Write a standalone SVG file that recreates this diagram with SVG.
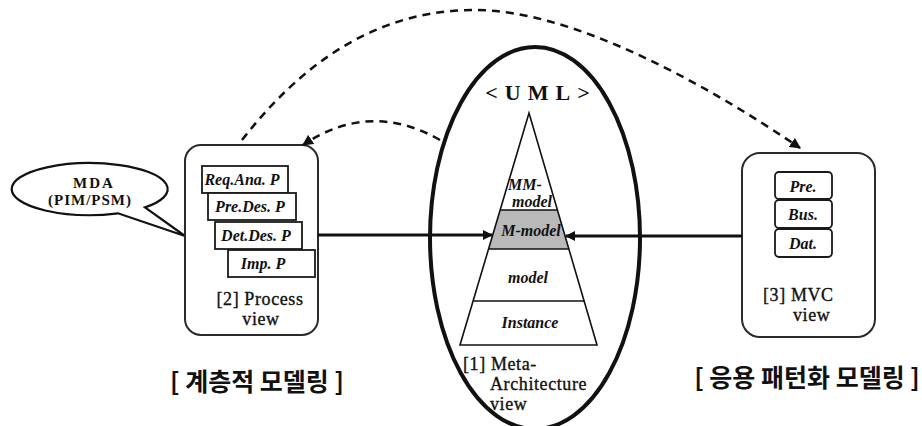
<svg xmlns="http://www.w3.org/2000/svg" width="922" height="426" viewBox="0 0 922 426">
<defs>
<style>
.box{fill:#fff;stroke:#2a2a2a;stroke-width:2}
.inner{fill:#fff;stroke:#1a1a1a;stroke-width:1.8}
.lbl{font-family:"Liberation Serif","Times New Roman",serif;font-size:18px;letter-spacing:0.6px;fill:#111;stroke:#111;stroke-width:0.35}
.bi{font-family:"Liberation Serif","Times New Roman",serif;font-size:16px;font-weight:bold;font-style:italic;fill:#111}
.kr{font-family:"Noto Sans CJK KR","Noto Sans",sans-serif;font-size:25px;font-weight:bold;fill:#111}
.solid{fill:none;stroke:#111;stroke-width:3}
.dash{fill:none;stroke:#111;stroke-width:2.5;stroke-dasharray:8 6}
.band{fill:none;stroke:#111;stroke-width:1.6}
</style>
<marker id="ah" viewBox="0 0 10 10" refX="9" refY="5" markerWidth="10" markerHeight="10" markerUnits="userSpaceOnUse" orient="auto">
<path d="M0,0 L10,5 L0,10 Z" fill="#111"/>
</marker>
<marker id="ahd" viewBox="0 0 10 10" refX="9" refY="5" markerWidth="11" markerHeight="11" markerUnits="userSpaceOnUse" orient="auto">
<path d="M0,0 L10,5 L0,10 Z" fill="#111"/>
</marker>
</defs>
<rect width="922" height="426" fill="#fff"/>

<g id="mda-callout">
<path d="M118,213.3 A78,26 0 1 1 145,207.4 L185,236 Z" fill="#fff" stroke="#111" stroke-width="2.2" stroke-linejoin="miter"/>
<text text-anchor="middle" font-family="Liberation Serif,serif" font-size="15" font-weight="bold" fill="#111"><tspan x="94" y="188" letter-spacing="2">MDA</tspan><tspan x="90" y="205" letter-spacing="1">(PIM/PSM)</tspan></text>
</g>

<g id="process-view">
<rect class="box" x="185" y="145" width="133" height="190" rx="16"/>
<rect class="inner" x="202" y="166" width="86" height="27"/>
<text class="bi" x="242" y="185" text-anchor="middle">Req.Ana. P</text>
<rect class="inner" x="208" y="193" width="88" height="27"/>
<text class="bi" x="250" y="212" text-anchor="middle">Pre.Des. P</text>
<rect class="inner" x="215" y="222" width="87" height="27"/>
<text class="bi" x="256" y="241" text-anchor="middle">Det.Des. P</text>
<rect class="inner" x="228" y="250" width="87" height="27"/>
<text class="bi" x="263" y="269" text-anchor="middle">Imp. P</text>
<text class="lbl" text-anchor="middle"><tspan x="260" y="305">[2] Process</tspan><tspan x="261" y="325">view</tspan></text>
</g>

<g id="meta-architecture-view">
<ellipse cx="535" cy="238" rx="105" ry="191" fill="none" stroke="#111" stroke-width="4"/>
<text x="541" y="100" text-anchor="middle" font-family="Liberation Serif,serif" font-size="22" font-weight="bold" letter-spacing="7" fill="#111">&lt;UML&gt;</text>
<polygon points="500.4,210 557.6,210 569.2,249 488.8,249" fill="#b9b9b9"/>
<polygon points="529,113 597,345 460,345" fill="none" stroke="#111" stroke-width="1.6" stroke-linejoin="miter"/>
<line class="band" x1="500.4" y1="210" x2="557.6" y2="210"/>
<line class="band" x1="488.8" y1="249" x2="569.2" y2="249"/>
<line class="band" x1="473.5" y1="301" x2="584.5" y2="301"/>
<text class="bi" font-size="15"><tspan x="508" y="190">MM-</tspan><tspan x="512" y="207">model</tspan></text>
<text class="bi" x="531" y="236" text-anchor="middle">M-model</text>
<text class="bi" x="528" y="283" text-anchor="middle">model</text>
<text class="bi" x="530" y="328" text-anchor="middle" font-size="15">Instance</text>
<text class="lbl"><tspan x="463" y="370">[1] Meta-</tspan><tspan x="490" y="390">Architecture</tspan><tspan x="490" y="410">view</tspan></text>
</g>

<g id="mvc-view">
<rect class="box" x="742" y="153" width="133" height="184" rx="18"/>
<rect class="inner" x="775" y="172" width="57" height="27" rx="4"/>
<text class="bi" x="803" y="192" text-anchor="middle" font-size="15">Pre.</text>
<rect class="inner" x="775" y="200" width="57" height="28" rx="4"/>
<text class="bi" x="803" y="220" text-anchor="middle" font-size="15">Bus.</text>
<rect class="inner" x="775" y="229" width="57" height="28" rx="4"/>
<text class="bi" x="803" y="249" text-anchor="middle" font-size="15">Dat.</text>
<text class="lbl"><tspan x="763" y="301">[3] MVC</tspan><tspan x="793" y="321">view</tspan></text>
</g>

<g id="labels">
<text class="kr" x="257" y="391" text-anchor="middle">[ 계층적 모델링 ]</text>
<text class="kr" x="807" y="387" text-anchor="middle">[ 응용 패턴화 모델링 ]</text>
</g>

<g id="connectors">
<line class="solid" x1="318" y1="235" x2="492" y2="235" marker-end="url(#ah)"/>
<line class="solid" x1="742" y1="236" x2="566" y2="236" marker-end="url(#ah)"/>
<path class="dash" d="M242,140 C320,40 400,10 475,10 C570,10 700,80 800,148" marker-end="url(#ahd)"/>
<path class="dash" d="M440,140 Q370,100 303,145" marker-end="url(#ahd)"/>
</g>
</svg>
